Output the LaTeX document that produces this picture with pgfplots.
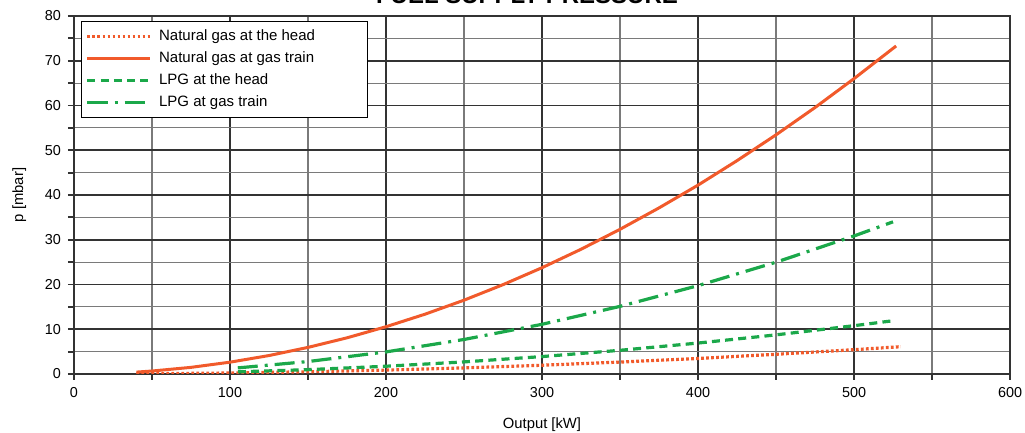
\documentclass[border=0pt]{standalone}
\usepackage{pgfplots}
\pgfplotsset{compat=1.18}
\usepackage{fontspec}
\setmainfont{Liberation Sans}
\definecolor{ngas}{HTML}{F15A2B}
\definecolor{lpg}{HTML}{1BA84A}
\definecolor{gmaj}{HTML}{333333}
\definecolor{gmin}{HTML}{7A7A7A}

\begin{document}
\begin{tikzpicture}
\begin{axis}[name=ax,
  width=468pt, height=179pt, scale only axis,
  xmin=0, xmax=600, ymin=0, ymax=80,
  xtick={0,100,...,600}, minor xtick={50,150,...,550},
  ytick={0,10,...,80}, minor ytick={5,15,...,75},
  xtick pos=left, ytick pos=left, tick align=outside,
  major tick length=3pt, minor tick length=3pt,
  every tick/.style={gmaj, line width=0.9pt},
  grid=both,
  major grid style={gmaj, line width=0.9pt},
  minor grid style={gmin, line width=0.6pt},
  axis line style={gmaj, line width=1.1pt},
  tick label style={font=\fontsize{7.2}{8}\selectfont},
  /pgf/number format/assume math mode=true,
  xlabel={Output [kW]}, ylabel={p [mbar]},
  label style={font=\fontsize{7.4}{8}\selectfont},
  xlabel style={yshift=-3.5pt},
  ylabel style={yshift=2.5pt},
  legend style={at={(0,1)}, xshift=3.5pt, yshift=-2.5pt, anchor=north west,
    draw=black, line width=0.5pt, font=\fontsize{7.5}{8.5}\selectfont,
    row sep=0pt, inner sep=2.2pt, nodes={inner xsep=4pt}},
  legend cell align=left,
  legend image code/.code={\draw[#1] (0pt,0pt) -- (31pt,0pt);},
]
% Natural gas at the head
\addplot[ngas, line width=1.6pt, dash pattern=on 1.4pt off 1.1pt] coordinates {
(40,0.03)(100,0.22)(150,0.49)(200,0.87)(250,1.36)(300,1.95)(350,2.66)
(400,3.47)(450,4.40)(500,5.43)(530,6.1)};
\addlegendentry{Natural gas at the head\hspace*{20pt}}
% Natural gas at gas train
\addplot[ngas, line width=1.5pt] coordinates {
(40,0.42)(50,0.66)(75,1.48)(100,2.64)(125,4.12)(150,5.94)(175,8.08)
(200,10.56)(225,13.36)(250,16.49)(275,19.96)(300,23.75)(325,27.87)
(350,32.33)(375,37.11)(400,42.2)(425,47.67)(450,53.44)(475,59.54)
(500,66.0)(527,73.3)};
\addlegendentry{Natural gas at gas train}
% LPG at the head
\addplot[lpg, line width=1.6pt, dash pattern=on 4pt off 2.6pt] coordinates {
(105,0.48)(150,0.97)(200,1.73)(250,2.70)(300,3.89)(350,5.29)(400,6.91)
(450,8.74)(500,10.79)(525,11.9)};
\addlegendentry{LPG at the head}
% LPG at gas train
\addplot[lpg, line width=1.6pt, dash pattern=on 10pt off 3.5pt on 1.5pt off 3.5pt] coordinates {
(105,1.36)(150,2.78)(200,4.93)(250,7.71)(300,11.1)(350,15.11)(400,19.74)
(450,24.98)(500,30.84)(525,34.0)};
\addlegendentry{LPG at gas train}
\end{axis}
\node[overlay, anchor=base, font=\fontsize{12}{13}\selectfont\bfseries]
  at ([xshift=-7.5pt, yshift=6pt]ax.north) {FUEL SUPPLY PRESSURE};
\pgfresetboundingbox
\useasboundingbox ([xshift=-37pt, yshift=-29.5pt]ax.south west)
  rectangle ([xshift=7.5pt, yshift=8pt]ax.north east);
\end{tikzpicture}
\end{document}
